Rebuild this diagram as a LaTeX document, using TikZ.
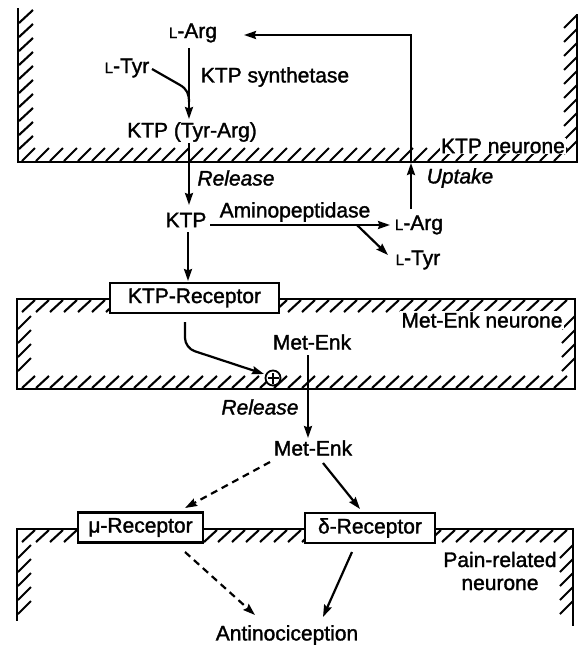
\documentclass[tikz,border=0pt]{standalone}
\usepackage{fontspec}
\setmainfont{Liberation Sans}[FakeBold=1.5]
\usetikzlibrary{arrows.meta}
\newcommand\smL{{\fontsize{15}{15}\selectfont L}}
\begin{document}
\begin{tikzpicture}[x=1pt,y=-1pt,
  mem/.style={line width=2.8pt, line join=miter, line cap=rect},
  hatch/.style={line width=2.1pt},
  arr/.style={line width=2.2pt,-{Stealth[length=12pt,width=8pt,inset=1.5pt]}},
  plain/.style={line width=2.2pt},
  dsh/.style={arr,dash pattern=on 7pt off 5pt},
  lbl/.style={inner sep=1pt, font=\fontsize{21}{23}\selectfont},
  ital/.style={lbl, font=\fontsize{21}{23}\selectfont\itshape},
  nlbl/.style={lbl, fill=white},
  box/.style={draw, line width=2.2pt, fill=white, inner sep=0pt, minimum height=30pt, font=\fontsize{21}{23}\selectfont}
]
\useasboundingbox (0,0) rectangle (584,646);

% ---------- KTP neurone ----------
\foreach \y in {10,24,...,136} \draw[hatch] (19,{\y+13}) -- (33,\y);
\foreach \x in {22,36,...,562} \draw[hatch] (\x,161) -- ({\x+13},148);
\foreach \y in {15,29,...,141} \draw[hatch] (564,{\y+13}) -- (577,\y);
\draw[mem] (18,9) -- (18,162) -- (577,162) -- (577,15);

% ---------- Met-Enk neurone ----------
\foreach \x in {22,36,...,560} \draw[hatch] (\x,312) -- ({\x+13},300);
\foreach \y in {316,330,...,358} \draw[hatch] (18,{\y+13}) -- (31,\y);
\foreach \x in {22,36,...,560} \draw[hatch] (\x,388) -- ({\x+13},376);
\foreach \y in {316,330,...,358} \draw[hatch] (562,{\y+13}) -- (575,\y);
\draw[mem] (17,299) rectangle (575,389);

% ---------- Pain-related neurone ----------
\foreach \x in {22,36,...,558} \draw[hatch] (\x,542) -- ({\x+13},530);
\foreach \y in {545,559,...,601} \draw[hatch] (18,{\y+13}) -- (31,\y);
\foreach \y in {545,559,...,608} \draw[hatch] (560,{\y+13}) -- (573,\y);
\draw[mem] (17,620) -- (17,529) -- (573,529) -- (573,625);

% ---------- labels ----------
\node[lbl] (larg1) at (193,33) {\smL-Arg};
\node[lbl] (ltyr1) at (127,68) {\smL-Tyr};
\node[lbl] (synth) at (275,77) {KTP synthetase};
\node[lbl] (ktpta) at (192,132) {KTP (Tyr-Arg)};
\node[nlbl] (ktpn) at (503,146) {KTP neurone};
\node[ital] (rel1) at (236,178) {Release};
\node[ital] (upt) at (460,178) {Uptake};
\node[lbl] (ktp) at (186,220) {KTP};
\node[lbl] (amino) at (295,212) {Aminopeptidase};
\node[lbl] (larg2) at (419,225) {\smL-Arg};
\node[lbl] (ltyr2) at (418,260) {\smL-Tyr};
\node[box, minimum width=169pt] (ktpr) at (194.5,298) {KTP-Receptor};
\node[nlbl] (metn) at (482,320) {Met-Enk neurone};
\node[lbl] (me1) at (312,342) {Met-Enk};
\node[ital] (rel2) at (260,407) {Release};
\node[lbl] (me2) at (313,448) {Met-Enk};
\node[box, minimum width=125pt] (mur) at (140.5,527.5) {μ-Receptor};
\node[box, minimum width=130pt] (dr) at (370,528) {δ-Receptor};
\node[nlbl, align=center] (pain) at (500,571) {Pain-related\\neurone};
\node[lbl] (anti) at (287,635) {Antinociception};
\node[circle, draw, line width=1.8pt, fill=white, minimum size=15pt, inner sep=0pt] (plus) at (273,378) {};
\draw[line width=1.8pt] ([xshift=-5.5pt]plus.center) -- ([xshift=5.5pt]plus.center);
\draw[line width=1.8pt] ([yshift=-5.5pt]plus.center) -- ([yshift=5.5pt]plus.center);

% ---------- connectors ----------
\coordinate (s1) at (189,48);   \coordinate (e1) at (189,119);
\draw[arr] (s1) -- (e1);
\coordinate (t1) at (152,69);  \coordinate (j1) at (189,102);
\draw[plain] (t1) -- (180,85) .. controls (187,89) and (189,94) .. (j1);
\coordinate (s2) at (189,143);  \coordinate (e2) at (189,205);
\draw[arr] (s2) -- (e2);
\coordinate (u1) at (411,209);  \coordinate (u2) at (411,163);
\draw[arr] (u1) -- (u2);
\coordinate (r1) at (244,35);
\draw[arr] (u2) -- (411,35) -- (r1);
\coordinate (k1) at (210,225);  \coordinate (k2) at (390,225);
\draw[arr] (k1) -- (k2);
\coordinate (b1) at (357,225);  \coordinate (b2) at (388,255);
\draw[arr] (b1) -- (b2);
\coordinate (k3) at (188,232);  \coordinate (k4) at (188,281);
\draw[arr] (k3) -- (k4);
\coordinate (p1) at (185,322);  \coordinate (p2) at (264,374);
\draw[arr, rounded corners=10pt] (p1) -- (185,348) -- (p2);
\coordinate (m1) at (308,355);  \coordinate (m2) at (308,438);
\draw[arr] (m1) -- (m2);
\coordinate (d1) at (270,462);  \coordinate (d2) at (185,508);
\draw[dsh] (d1) -- (d2);
\coordinate (d3) at (323,463);  \coordinate (d4) at (360,509);
\draw[arr] (d3) -- (d4);
\coordinate (d5) at (185,552);  \coordinate (d6) at (255,615);
\draw[dsh] (d5) -- (d6);
\coordinate (d7) at (352,552);  \coordinate (d8) at (323,617);
\draw[arr] (d7) -- (d8);
\end{tikzpicture}
\end{document}
